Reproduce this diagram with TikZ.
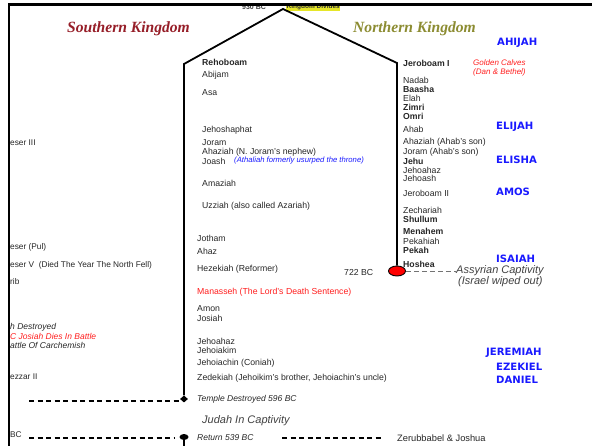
\documentclass[tikz,border=0pt]{standalone}
\usepackage{fontspec}
\setmainfont{Liberation Sans}
\newfontfamily\titlefont{Liberation Serif}
\newfontfamily\prophfont{DejaVu Sans}
\usetikzlibrary{shapes.geometric}
\definecolor{southred}{RGB}{150,30,40}
\definecolor{northolive}{RGB}{140,140,50}
\definecolor{prophblue}{RGB}{25,25,255}
\definecolor{notered}{RGB}{255,30,30}
\definecolor{hiyellow}{RGB}{230,230,40}
\begin{document}
\begin{tikzpicture}[x=1pt,y=-1pt,
  king/.style={anchor=west, inner sep=0pt, text=black!85, font=\fontsize{8.7}{9}\selectfont},
  kingb/.style={king, font=\fontsize{8.7}{9}\selectfont\bfseries},
  rednote/.style={king, text=notered},
  bluenote/.style={anchor=west, inner sep=0pt, text=prophblue, font=\fontsize{7.7}{8}\selectfont\itshape},
  calves/.style={anchor=west, inner sep=0pt, text=notered, font=\fontsize{8}{8}\selectfont\itshape},
  eventtxt/.style={anchor=west, inner sep=0pt, text=black!85, font=\fontsize{8.5}{9}\selectfont\itshape},
  bigital/.style={anchor=west, inner sep=0pt, text=black!75, font=\fontsize{11}{11}\selectfont\itshape},
  proph/.style={anchor=west, inner sep=0pt, text=prophblue, font=\prophfont\bfseries\fontsize{10.1}{10}\selectfont},
  titletxt/.style={anchor=west, inner sep=0pt, font=\titlefont\bfseries\itshape\fontsize{15.6}{16}\selectfont},
  lefttxt/.style={anchor=west, inner sep=0pt, text=black!85, font=\fontsize{8.3}{9}\selectfont},
  leftital/.style={lefttxt, font=\fontsize{8.5}{9}\selectfont\itshape},
  kline/.style={line width=1.8pt, line join=miter},
  dashline/.style={line width=1.2pt, dash pattern=on 5pt off 3.5pt},
  grayline/.style={line width=0.9pt, draw=black!55, dash pattern=on 5pt off 3pt}
]
\useasboundingbox (0,0) rectangle (592,446);

% top labels (partly hidden under the frame)
\node[anchor=west, inner sep=0pt, text=black!75, font=\fontsize{7}{7}\selectfont\bfseries] (bc930) at (242,7.5) {930 BC};
\node[anchor=west, inner sep=0.5pt, fill=hiyellow, text=black!80, font=\fontsize{6.5}{7}\selectfont\bfseries] (divide) at (286,7) {Kingdom Divides};

% titles
\node[titletxt, text=southred] (south) at (67,29) {Southern Kingdom};
\node[titletxt, text=northolive] (north) at (353,29) {Northern Kingdom};

% kingdom outline
\node[draw=black, line width=0.9pt, fill=red, ellipse, minimum width=17pt, minimum height=10pt, inner sep=0pt] (fall) at (397,271) {};
\node[diamond, fill=black, minimum width=8pt, minimum height=7pt, inner sep=0pt] (enddot) at (184,399) {};
\coordinate (apex) at (283,9);
\coordinate (lc) at (184,64);
\coordinate (rc) at (397,63);
\draw[kline] (enddot.north) -- (lc) -- (apex) -- (rc) -- (fall.north);

% southern kings
\node[kingb] (rehoboam) at (202,62) {Rehoboam};
\node[king] (abijam) at (202,75) {Abijam};
\node[king] (asa) at (202,93) {Asa};
\node[king] (jehoshaphat) at (202,130) {Jehoshaphat};
\node[king] (joramS) at (202,143) {Joram};
\node[king] (ahaziahS) at (202,152) {Ahaziah (N. Joram's nephew)};
\node[king] (joash) at (202,161) {Joash};
\node[bluenote] (athaliah) at (234,161) {(Athaliah formerly usurped the throne)};
\node[king] (amaziah) at (202,183) {Amaziah};
\node[king] (uzziah) at (202,206) {Uzziah (also called Azariah)};
\node[king] (jotham) at (197,238) {Jotham};
\node[king] (ahaz) at (197,251) {Ahaz};
\node[king] (hezekiah) at (197,269) {Hezekiah (Reformer)};
\node[king] (bc722) at (344,273) {722 BC};
\node[rednote] (manasseh) at (197,292) {Manasseh (The Lord's Death Sentence)};
\node[king] (amon) at (197,309) {Amon};
\node[king] (josiah) at (197,318) {Josiah};
\node[king] (jehoahazS) at (197,341) {Jehoahaz};
\node[king] (jehoiakim) at (197,350) {Jehoiakim};
\node[king] (jehoiachin) at (197,363) {Jehoiachin (Coniah)};
\node[king] (zedekiah) at (197,378) {Zedekiah (Jehoikim's brother, Jehoiachin's uncle)};
\node[eventtxt] (templedest) at (197,399) {Temple Destroyed 596 BC};
\node[bigital] (captivity) at (202,421) {Judah In Captivity};
\node[eventtxt] (return) at (197,438) {Return 539 BC};
\node[king, font=\fontsize{9.3}{9}\selectfont] (zerub) at (397,438) {Zerubbabel \& Joshua};

% northern kings
\node[kingb] (jeroboam1) at (403,63) {Jeroboam I};
\node[calves] (calves1) at (473,63) {Golden Calves};
\node[calves] (calves2) at (473,72) {(Dan \& Bethel)};
\node[king] (nadab) at (403,80) {Nadab};
\node[kingb] (baasha) at (403,89) {Baasha};
\node[king] (elah) at (403,98) {Elah};
\node[kingb] (zimri) at (403,107) {Zimri};
\node[kingb] (omri) at (403,116) {Omri};
\node[king] (ahab) at (403,129) {Ahab};
\node[king] (ahaziahN) at (403,142) {Ahaziah (Ahab's son)};
\node[king] (joramN) at (403,152) {Joram (Ahab's son)};
\node[kingb] (jehu) at (403,161) {Jehu};
\node[king] (jehoahazN) at (403,170) {Jehoahaz};
\node[king] (jehoash) at (403,178) {Jehoash};
\node[king] (jeroboam2) at (403,193) {Jeroboam II};
\node[king] (zechariah) at (403,210) {Zechariah};
\node[kingb] (shullum) at (403,219) {Shullum};
\node[kingb] (menahem) at (403,231) {Menahem};
\node[king] (pekahiah) at (403,241) {Pekahiah};
\node[kingb] (pekah) at (403,250) {Pekah};
\node[kingb] (hoshea) at (403,264) {Hoshea};
\node[bigital] (assyria) at (456,271) {Assyrian Captivity};
\node[bigital] (wiped) at (458,281.5) {(Israel wiped out)};
\draw[grayline] (fall.east) -- (assyria.west);

% prophets
\node[proph] (ahijah) at (497,43) {AHIJAH};
\node[proph] (elijah) at (496,127) {ELIJAH};
\node[proph] (elisha) at (496,160) {ELISHA};
\node[proph] (amos) at (496,192) {AMOS};
\node[proph] (isaiah) at (496,259) {ISAIAH};
\node[proph] (jeremiah) at (486,353) {JEREMIAH};
\node[proph] (ezekiel) at (496,367) {EZEKIEL};
\node[proph] (daniel) at (496,380) {DANIEL};

% left column (cut off by the frame)
\node[lefttxt] (l1) at (10,143) {eser III};
\node[lefttxt] (l2) at (10,247) {eser (Pul)};
\node[lefttxt] (l3) at (10,265) {eser V\ \ (Died The Year The North Fell)};
\node[lefttxt] (l4) at (10,282) {rib};
\node[leftital] (l5) at (10,327) {h Destroyed};
\node[leftital, text=notered] (l6) at (10,336) {C Josiah Dies In Battle};
\node[leftital] (l7) at (10,345) {attle Of Carchemish};
\node[lefttxt] (l8) at (10,377) {ezzar II};
\node[lefttxt] (l9) at (10,435) {BC};

% bottom markers and dashed lines
\node[ellipse, fill=black, minimum width=9pt, minimum height=6pt, inner sep=0pt] (retdot) at (184,437) {};
\coordinate (bottomend) at (184,446);
\draw[line width=1.8pt] (retdot.center) -- (bottomend);
\coordinate (d1s) at (29,401);
\draw[dashline] (d1s) -- (d1s -| enddot.west);
\coordinate (d2s) at (29,438);
\coordinate (d2e) at (175,438);
\draw[dashline] (d2s) -- (d2e);
\coordinate (d3s) at (282,438);
\coordinate (d3e) at (381,438);
\draw[dashline] (d3s) -- (d3e);

% frame
\draw[line width=2.8pt] (9,446) -- (9,4.5) -- (592,4.5);
\end{tikzpicture}
\end{document}
